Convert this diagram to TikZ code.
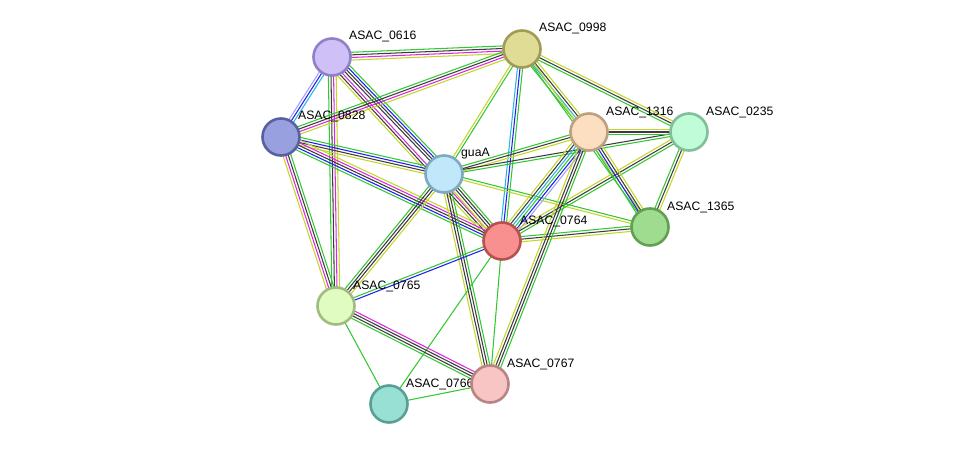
\documentclass[tikz,border=0pt]{standalone}
\usepackage{fontspec}
\setmainfont{Liberation Sans}
\usetikzlibrary{calc}
\pgfdeclarelayer{bg}
\pgfsetlayers{bg,main}
\definecolor{eG}{RGB}{50,200,50}
\definecolor{eK}{RGB}{60,60,60}
\definecolor{eY}{RGB}{195,215,40}
\definecolor{eM}{RGB}{220,40,220}
\definecolor{eB}{RGB}{30,30,240}
\definecolor{eC}{RGB}{40,180,230}
\definecolor{eL}{RGB}{160,160,250}
\tikzset{
  prot/.style={circle, minimum size=37pt, inner sep=0pt, line width=2.6pt},
  lab/.style={anchor=west, font=\fontsize{12.2}{14}\selectfont, inner sep=0pt},
  eline/.style={line width=1.05pt}
}
\newcommand\pedge[5][0]{%
  \foreach \c [count=\i] in {#5}{%
    \pgfmathsetmacro\off{#1+(\i-(#4+1)/2)*2.6}%
    \draw[eline,draw=\c] ($(#2)!\off pt!90:(#3)$) -- ($(#3)!\off pt!-90:(#2)$);
  }}
\begin{document}
\begin{tikzpicture}[x=1pt,y=-1pt]
\useasboundingbox (0,0) rectangle (975,450);
% coordinates of proteins
\coordinate (p0616) at (332,57);
\coordinate (p0998) at (522,49);
\coordinate (p0828) at (281,137);
\coordinate (pguaA) at (444,174);
\coordinate (p1316) at (589,132);
\coordinate (p0235) at (689,132);
\coordinate (p1365) at (650,227);
\coordinate (p0764) at (502,241);
\coordinate (p0765) at (336,306);
\coordinate (p0766) at (389,404);
\coordinate (p0767) at (490,384);
% labels
\node[lab] (l0616) at ($(p0616)+(17,-21)$) {ASAC\_0616};
\node[lab] (l0998) at ($(p0998)+(17,-21)$) {ASAC\_0998};
\node[lab] (l0828) at ($(p0828)+(17,-21)$) {ASAC\_0828};
\node[lab] (lguaA) at ($(pguaA)+(17,-20)$) {guaA};
\node[lab] (l1316) at ($(p1316)+(17,-20)$) {ASAC\_1316};
\node[lab] (l0235) at ($(p0235)+(17,-20)$) {ASAC\_0235};
\node[lab] (l1365) at ($(p1365)+(17,-20)$) {ASAC\_1365};
\node[lab] (l0764) at ($(p0764)+(18,-20)$) {ASAC\_0764};
\node[lab] (l0765) at ($(p0765)+(17,-20)$) {ASAC\_0765};
\node[lab] (l0766) at ($(p0766)+(17,-20)$) {ASAC\_0766};
\node[lab] (l0767) at ($(p0767)+(17,-20)$) {ASAC\_0767};
% proteins
\node[prot, fill={rgb,255:red,208;green,192;blue,248}, draw={rgb,255:red,144;green,128;blue,200}] (n0616) at (p0616) {};
\node[prot, fill={rgb,255:red,224;green,220;blue,150}, draw={rgb,255:red,160;green,156;blue,88}] (n0998) at (p0998) {};
\node[prot, fill={rgb,255:red,152;green,160;blue,224}, draw={rgb,255:red,88;green,96;blue,160}] (n0828) at (p0828) {};
\node[prot, fill={rgb,255:red,192;green,232;blue,250}, draw={rgb,255:red,128;green,168;blue,192}] (guaA) at (pguaA) {};
\node[prot, fill={rgb,255:red,252;green,222;blue,192}, draw={rgb,255:red,188;green,160;blue,128}] (n1316) at (p1316) {};
\node[prot, fill={rgb,255:red,192;green,252;blue,216}, draw={rgb,255:red,128;green,192;blue,152}] (n0235) at (p0235) {};
\node[prot, fill={rgb,255:red,160;green,220;blue,144}, draw={rgb,255:red,96;green,160;blue,80}] (n1365) at (p1365) {};
\node[prot, fill={rgb,255:red,248;green,144;blue,144}, draw={rgb,255:red,184;green,80;blue,80}] (n0764) at (p0764) {};
\node[prot, fill={rgb,255:red,224;green,252;blue,192}, draw={rgb,255:red,160;green,188;blue,128}] (n0765) at (p0765) {};
\node[prot, fill={rgb,255:red,152;green,224;blue,212}, draw={rgb,255:red,88;green,160;blue,148}] (n0766) at (p0766) {};
\node[prot, fill={rgb,255:red,248;green,196;blue,196}, draw={rgb,255:red,184;green,132;blue,132}] (n0767) at (p0767) {};
% edges
\begin{pgfonlayer}{bg}
\fill[white] (0,0) rectangle (975,450);
\pedge{n0616}{n0998}{4}{eY,eM,eK,eG}
\pedge{n0616}{n0828}{3}{eL,eB,eC}
\pedge[3]{n0616}{guaA}{4}{eK,eK,eB,eG}
\pedge[-6]{n0616}{n0764}{3}{eY,eK,eM}
\pedge{n0616}{n0765}{4}{eG,eK,eM,eY}
\pedge{n0828}{n0998}{4}{eY,eM,eK,eG}
\pedge{n0828}{guaA}{4}{eY,eK,eB,eG}
\pedge{n0828}{n0764}{5}{eG,eB,eK,eM,eY}
\pedge{n0828}{n0765}{4}{eY,eM,eK,eG}
\pedge{n0998}{guaA}{2}{eY,eG}
\pedge{n0998}{n0764}{3}{eC,eB,eG}
\pedge{n0998}{n1316}{4}{eG,eC,eK,eY}
\pedge{n0998}{n0235}{3}{eG,eK,eY}
\pedge{n0998}{n1365}{2}{eG,eY}
\pedge{guaA}{n1316}{3}{eY,eK,eG}
\pedge{guaA}{n0235}{2}{eG,eK}
\pedge{guaA}{n1365}{2}{eY,eG}
\pedge{guaA}{n0764}{4}{eY,eK,eK,eG}
\pedge{guaA}{n0765}{4}{eG,eK,eK,eY}
\pedge{guaA}{n0767}{4}{eY,eK,eK,eG}
\pedge{n0764}{n1316}{6}{eL,eB,eG,eC,eK,eY}
\pedge{n0764}{n0235}{3}{eG,eK,eY}
\pedge{n0764}{n1365}{3}{eY,eK,eG}
\pedge{n0764}{n0765}{2}{eG,eB}
\pedge{n0764}{n0766}{1}{eG}
\pedge{n0764}{n0767}{1}{eG}
\pedge{n0765}{n0767}{4}{eG,eK,eK,eM}
\pedge{n0765}{n0766}{1}{eG}
\pedge{n0766}{n0767}{1}{eG}
\pedge{n1316}{n0767}{4}{eY,eK,eK,eG}
\pedge{n1316}{n0235}{3}{eG,eK,eY}
\pedge{n1316}{n1365}{4}{eG,eB,eK,eY}
\pedge{n0235}{n1365}{3}{eG,eK,eY}
\end{pgfonlayer}
\end{tikzpicture}
\end{document}
